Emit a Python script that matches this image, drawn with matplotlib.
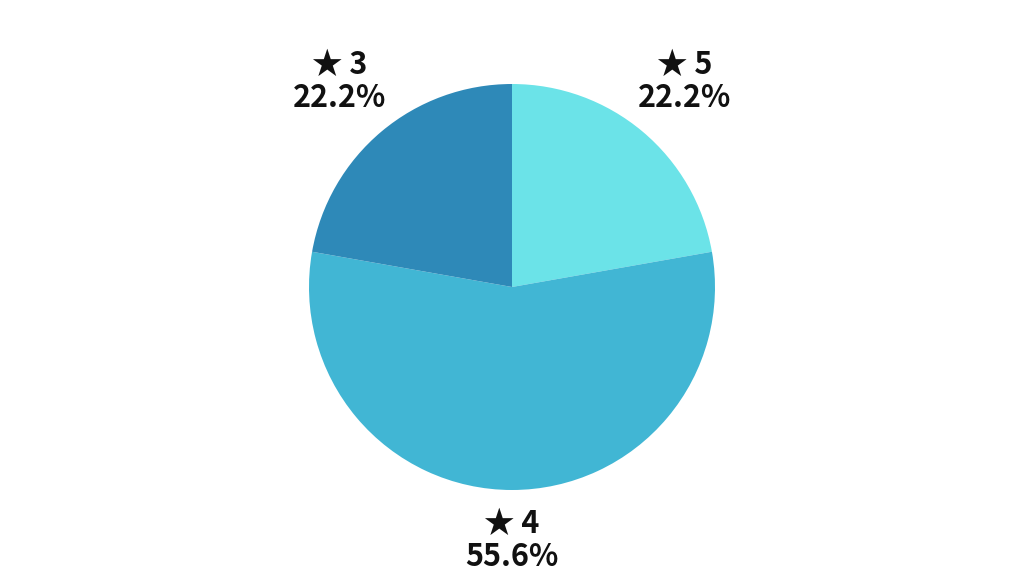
import numpy as np
import matplotlib.pyplot as plt

# ---- data ----
ratings = ["★ 5", "★ 4", "★ 3"]
counts = [2, 5, 2]
colors = ["#6be3e8", "#41b6d4", "#2e89b8"]

W, H = 1024, 576
cx, cy, r = 512, 287, 203

fig = plt.figure(figsize=(W / 100, H / 100), dpi=100)
ax = fig.add_axes([0, 0, 1, 1])

wedges, _ = ax.pie(counts, colors=colors, startangle=90, counterclock=False,
                   radius=1, center=(0, 0), wedgeprops=dict(linewidth=0))

total = sum(counts)
for w, lab, c in zip(wedges, ratings, counts):
    theta = np.deg2rad((w.theta1 + w.theta2) / 2)
    x, y = np.cos(theta), np.sin(theta)
    d = 1.32 if abs(x) > 0.2 else 1.25
    ax.text(d * x, d * y, f"{lab}\n{100 * c / total:.1f}%", ha="center", va="center",
            multialignment="center", fontsize=22, fontweight="bold",
            family=["Noto Sans CJK JP", "DejaVu Sans"], color="#111111",
            linespacing=1.05)

ax.set_xlim(-cx / r, (W - cx) / r)
ax.set_ylim(-(H - cy) / r, cy / r)
ax.set_aspect("equal")
ax.axis("off")

fig.savefig("out.png", dpi=100, facecolor="white")
